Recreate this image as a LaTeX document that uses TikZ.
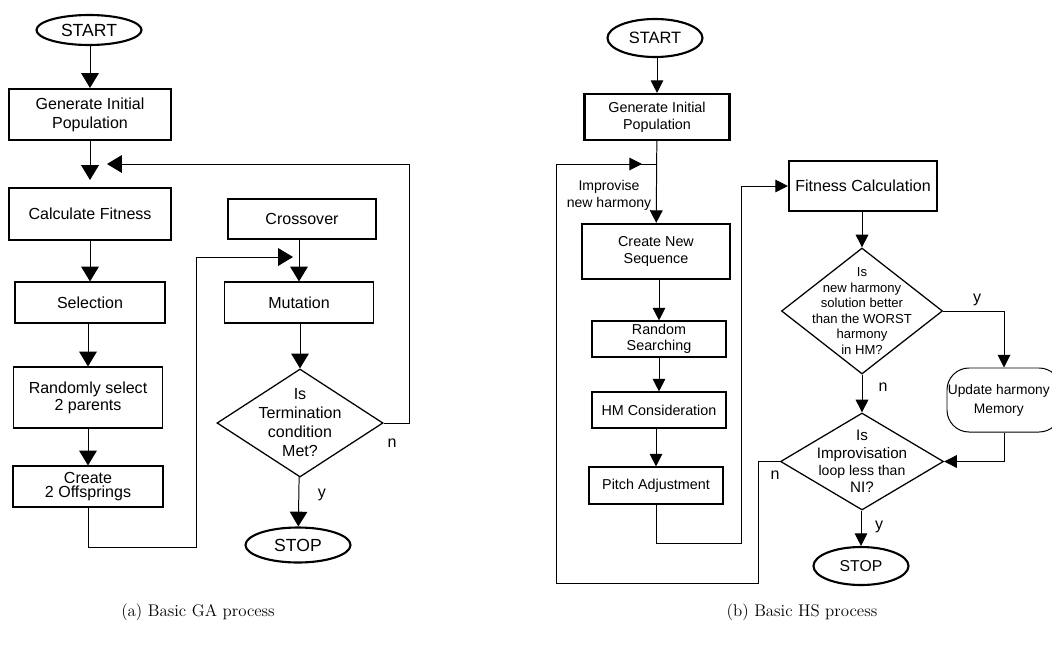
\documentclass[tikz,border=0pt]{standalone}
\usepackage{fontspec}
\newfontfamily\flowfont{Liberation Sans}
\usetikzlibrary{shapes,positioning,calc,arrows.meta}

\begin{document}
\begin{tikzpicture}[x=0.025cm, y=-0.025cm,
    every node/.style={font=\flowfont\fontsize{11.4}{13.7}\selectfont, inner sep=0pt},
    box/.style={draw, line width=0.8pt, align=center},
    thickbox/.style={draw, line width=1.5pt, align=center},
    oval/.style={draw, ellipse, line width=1.5pt},
    cond/.style={draw, diamond, line width=0.9pt},
    small/.style={font=\flowfont\fontsize{10.2}{12}\selectfont},
    flowA/.style={line width=0.7pt, -{Triangle[width=12.5pt,length=10.5pt]}},
    flowB/.style={line width=0.7pt, -{Triangle[width=9pt,length=9pt]}}]
    \useasboundingbox (0,0) rectangle (1052,646);

    % GA process
    \node[oval, minimum width=2.625cm, minimum height=0.75cm, font=\flowfont\fontsize{12.5}{15}\selectfont] (startA) at (89,30) {START};
    \node[thickbox, minimum width=4.05cm, minimum height=1.275cm] (genA) at (90,114.5) {Generate Initial\\Population};
    \coordinate (joinA) at (90,180);
    \node[thickbox, minimum width=4.05cm, minimum height=1.3cm] (fitA) at (90,214) {Calculate Fitness};
    \node[box, minimum width=3.75cm, minimum height=1.025cm] (selA) at (90,302.5) {Selection};
    \node[box, minimum width=3.725cm, minimum height=1.525cm, font=\flowfont\fontsize{11.4}{12}\selectfont] (randA) at (88,397.5) {Randomly select\\2 parents};
    \node[box, minimum width=3.75cm, minimum height=1.025cm, font=\flowfont\fontsize{11.4}{10.5}\selectfont] (offA) at (88,486.5) {Create\\2 Offsprings};

    \node[box, minimum width=3.7cm, minimum height=1cm] (crossA) at (302,219) {Crossover};
    \node[box, minimum width=3.725cm, minimum height=1.025cm] (mutA) at (299,302.5) {Mutation};
    \node[cond, minimum width=4.15cm, minimum height=2.7cm,
          label={[align=center, font=\flowfont\fontsize{11.4}{13.5}\selectfont]center:{Is\\Termination\\condition\\Met?}}] (decA) at (300,423) {};
    \node[oval, minimum width=2.625cm, minimum height=0.875cm, font=\flowfont\fontsize{12.5}{15}\selectfont] (stopA) at (298,545) {STOP};

    \draw[flowA] (startA.south -| genA) -- (genA);
    \draw[flowA] (genA) -- (joinA);
    \draw[flowA] (fitA) -- (selA);
    \draw[flowA] (selA.south -| randA) -- (randA);
    \draw[flowA] (randA) -- (offA);
    \draw[flowA] (crossA.south -| mutA) -- (mutA);
    \draw[flowA] (mutA.south -| decA) -- (decA);
    \draw[flowA] (decA) -- (stopA);

    \coordinate (topA) at (409,164);
    \coordinate (backA) at (107,164);
    \draw[flowA] (decA.east) -| (topA) -- (backA);
    \coordinate (botA) at (196,547);
    \coordinate (inA) at (293,257);
    \draw[flowA] (offA.south) |- (botA) |- (inA);

    \node (nA) at (392,443) {n};
    \node (yA) at (322,495) {y};

    % HS process
    \node[oval, minimum width=2.375cm, minimum height=0.95cm, font=\flowfont\fontsize{11.7}{14}\selectfont] (startB) at (655,38) {START};
    \node[thickbox, small, minimum width=3.625cm, minimum height=1.15cm] (genB) at (657,117) {Generate Initial\\Population};
    \coordinate (joinB) at (657,164);
    \node[thickbox, small, minimum width=3.7cm, minimum height=1.375cm] (newB) at (656,251.5) {Create New\\Sequence};
    \node[box, small, minimum width=3.35cm, minimum height=0.9cm, font=\flowfont\fontsize{10.2}{11}\selectfont] (randB) at (659,339) {Random\\Searching};
    \node[box, small, minimum width=3.35cm, minimum height=0.9cm] (hmB) at (659,410) {HM Consideration};
    \node[box, small, minimum width=3.35cm, minimum height=0.925cm] (pitchB) at (656,485.5) {Pitch Adjustment};
    \node[small, align=center, font=\flowfont\fontsize{10}{11.9}\selectfont] (impB) at (609,195) {Improvise\\new harmony};

    \node[thickbox, minimum width=3.7cm, minimum height=1.25cm] (fitB) at (863,186) {Fitness Calculation};
    \node[cond, minimum width=4.025cm, minimum height=3.15cm,
          label={[align=center, font=\flowfont\fontsize{9.3}{11}\selectfont]center:{Is\\new harmony\\solution better\\than the WORST\\harmony\\in HM?}}] (chkB) at (862,311) {};
    \node[draw, rounded corners=0.55cm, line width=0.7pt, minimum width=2.85cm, minimum height=1.6cm,
          label={[align=center, xshift=-0.13cm, font=\flowfont\fontsize{9.8}{13.5}\selectfont]center:{Update harmony\\Memory}}] (updB) at (1004,400) {};
    \node[cond, minimum width=4.075cm, minimum height=2.425cm,
          label={[align=center, font=\flowfont\fontsize{10.8}{12.4}\selectfont]center:{Is\\Improvisation\\{\fontsize{10}{12.4}\selectfont loop less than}\\NI?}}] (loopB) at (862,461.5) {};
    \node[oval, minimum width=2.375cm, minimum height=0.95cm, font=\flowfont\fontsize{11.2}{14}\selectfont] (stopB) at (861,566) {STOP};

    \draw[flowB] (startB.south -| genB) -- (genB);
    \draw[flowB] (genB) -- (newB);
    \draw[flowB] (newB.south -| randB) -- (randB);
    \draw[flowB] (randB) -- (hmB);
    \draw[flowB] (hmB.south -| pitchB) -- (pitchB);
    \coordinate (botB) at (741,543);
    \draw[flowB] (pitchB.south) |- (botB) |- (fitB.west);
    \draw[flowB] (fitB.south -| chkB) -- (chkB);
    \draw[flowB] (chkB.east) -| (updB.north);
    \draw[flowB] (chkB) -- (loopB);
    \draw[flowB] (updB.south) |- (loopB.east);
    \draw[flowB] (loopB.south -| stopB) -- (stopB);

    \coordinate (loopR) at (758,583);
    \coordinate (loopL) at (556,164);
    \coordinate (tipB) at (642,164);
    \draw[line width=0.7pt] (loopB.west) -| (loopR) -| (loopL) -- (joinB);
    \draw[flowB] (loopL) -- (tipB);

    \node (yB1) at (977,300) {y};
    \node (nB1) at (883,387) {n};
    \node (nB2) at (775,475) {n};
    \node (yB2) at (879,527) {y};

    % Captions
    \node[font=\fontsize{12}{14}\selectfont] (capA) at (198,612) {(a) Basic GA process};
    \node[font=\fontsize{12}{14}\selectfont] (capB) at (802,612) {(b) Basic HS process};
\end{tikzpicture}
\end{document}
